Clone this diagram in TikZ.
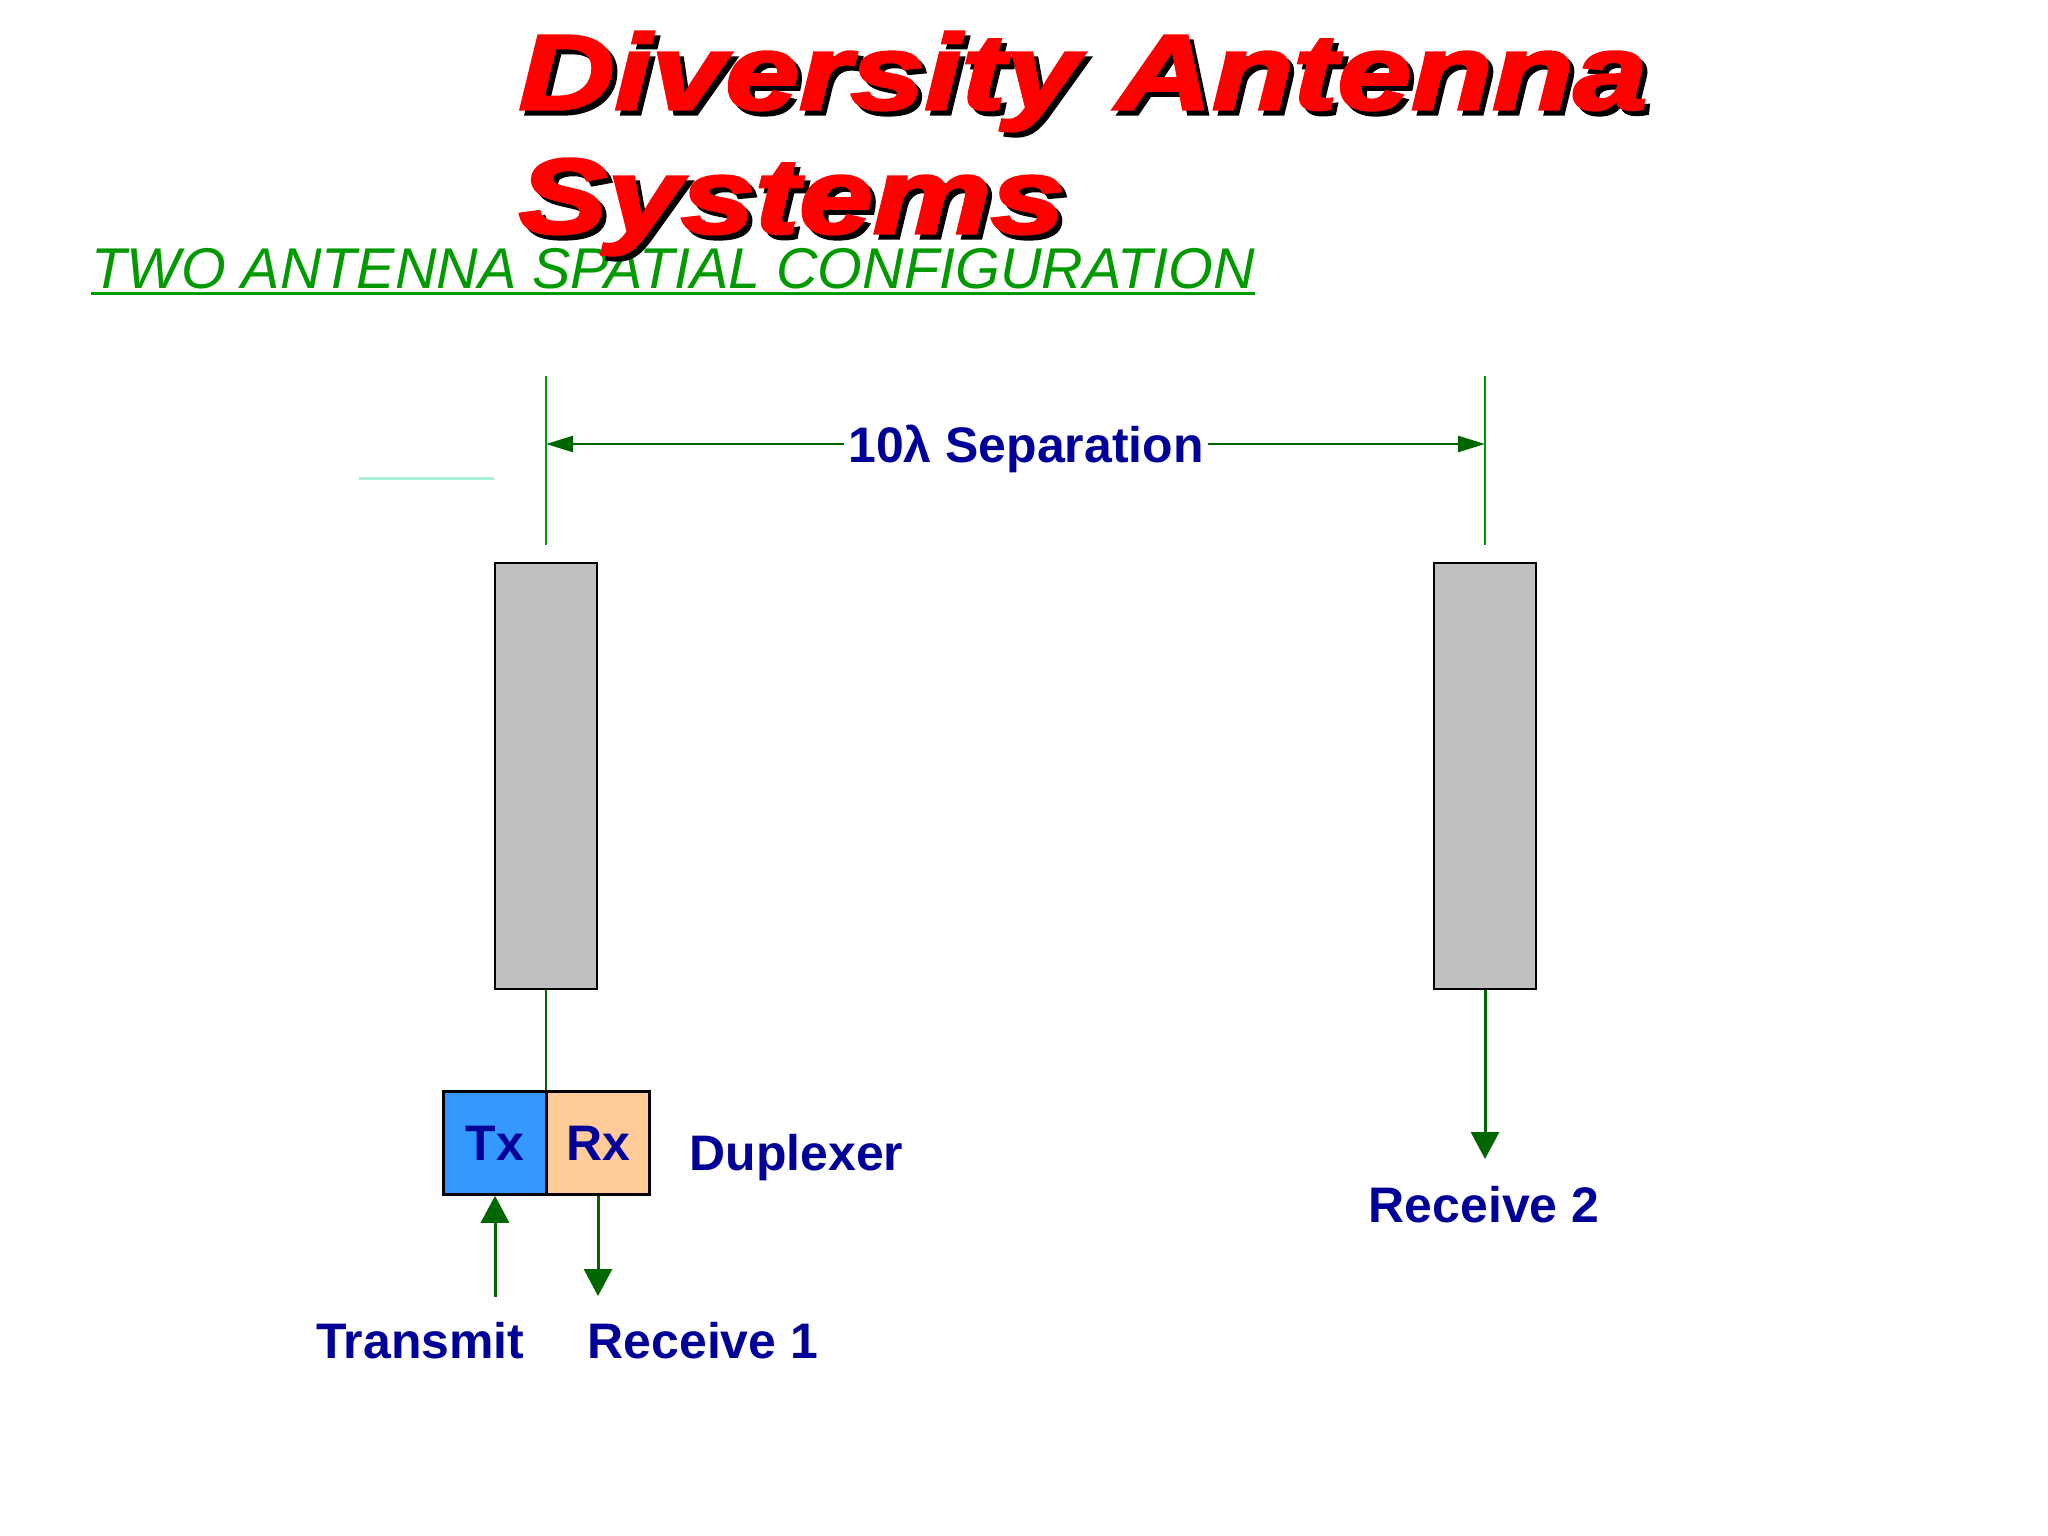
\documentclass[tikz,border=0pt]{standalone}
\usepackage{fontspec}
\setmainfont{Liberation Sans}
\newfontfamily\titlefont[FakeStretch=1.25,FakeBold=3]{Liberation Sans}
\usetikzlibrary{arrows.meta}

\definecolor{navy}{RGB}{0,0,153}
\definecolor{dkgreen}{RGB}{0,102,0}
\definecolor{subgreen}{RGB}{0,153,0}
\definecolor{antgray}{RGB}{192,192,192}
\definecolor{txblue}{RGB}{51,153,255}
\definecolor{rxpeach}{RGB}{255,204,153}
\definecolor{paleaqua}{RGB}{170,240,215}
\definecolor{titlered}{RGB}{255,0,0}

\newcommand{\lblfont}{\fontsize{14.2pt}{17pt}\selectfont\bfseries}

\begin{document}
\begin{tikzpicture}[x=0.01cm, y=-0.01cm,
    antenna/.style={draw=black, line width=0.7pt, fill=antgray,
        minimum width=1.02cm, minimum height=4.26cm, inner sep=0},
    duplex/.style={draw=black, line width=0.7pt, minimum width=1.03cm,
        minimum height=1.03cm, inner sep=0, text=navy, font=\lblfont},
    lbl/.style={text=navy, font=\lblfont, inner sep=0},
    sig/.style={draw=dkgreen, line width=0.85pt,
        -{Triangle[length=0.27cm,width=0.28cm]}},
    dimarr/.style={draw=dkgreen, line width=0.7pt,
        -{Triangle[length=0.27cm,width=0.16cm]}},
    extline/.style={draw=subgreen, line width=0.5pt},
    titletext/.style={text=titlered, inner sep=0,
        font=\titlefont\bfseries\itshape\fontsize{30.2pt}{36pt}\selectfont},
    titleshadow/.style={titletext, text=black}]

\useasboundingbox (0,0) rectangle (2048,1536);

% subtitle
\node[anchor=base west, inner sep=0, text=subgreen,
      font=\itshape\fontsize{16.35pt}{19pt}\selectfont] (sub) at (91,288)
      {TWO ANTENNA SPATIAL CONFIGURATION};
\draw[subgreen, line width=0.85pt] ([yshift=-0.05cm]sub.base west) -- ([yshift=-0.05cm]sub.base east);

% title
\node[titleshadow, anchor=base west] (titleAshadow) at (523,114) {Diversity Antenna};
\node[titletext, anchor=base west] (titleA) at (518,109) {Diversity Antenna};
\node[titleshadow, anchor=base west] (titleBshadow) at (523,238) {Systems};
\node[titletext, anchor=base west] (titleB) at (518,233) {Systems};

% stray line
\draw[paleaqua, line width=0.85pt] (359,478) -- (494,478);

% antennas
\node[antenna] (antL) at (546,776) {};
\node[antenna] (antR) at (1485,776) {};

% separation
\coordinate (extLtop) at (546,376);
\coordinate (extLbot) at (546,545);
\coordinate (extRtop) at (1485,376);
\coordinate (extRbot) at (1485,545);
\draw[extline] (extLtop) -- (extLbot);
\draw[extline] (extRtop) -- (extRbot);
\coordinate (arrL) at (546,444);
\coordinate (arrR) at (1485,444);
\node[lbl, anchor=base, inner sep=1pt] (sep) at (1026,462) {10λ Separation};
\draw[dimarr] (sep.west |- arrL) -- (arrL);
\draw[dimarr] (sep.east |- arrR) -- (arrR);

% duplexer
\node[duplex, fill=txblue] (tx) at (495,1143) {Tx};
\node[duplex, fill=rxpeach] (rx) at (598,1143) {Rx};
\node[lbl, anchor=base west] (dup) at (689,1170) {Duplexer};
\draw[dkgreen, line width=0.6pt] (antL.south) -- (antL.south |- tx.north);

% signals
\coordinate (txin) at (495,1297);
\coordinate (rxout) at (598,1296);
\coordinate (rx2out) at (1485,1159);
\draw[sig] (txin) -- (tx.south);
\draw[sig] (rx.south) -- (rxout);
\draw[sig] (antR.south) -- (rx2out);

\node[lbl, anchor=base east] (transmit) at (525,1358) {Transmit};
\node[lbl, anchor=base west] (receive1) at (587,1358) {Receive 1};
\node[lbl, anchor=base] (receive2) at (1484,1222) {Receive 2};
\end{tikzpicture}
\end{document}
